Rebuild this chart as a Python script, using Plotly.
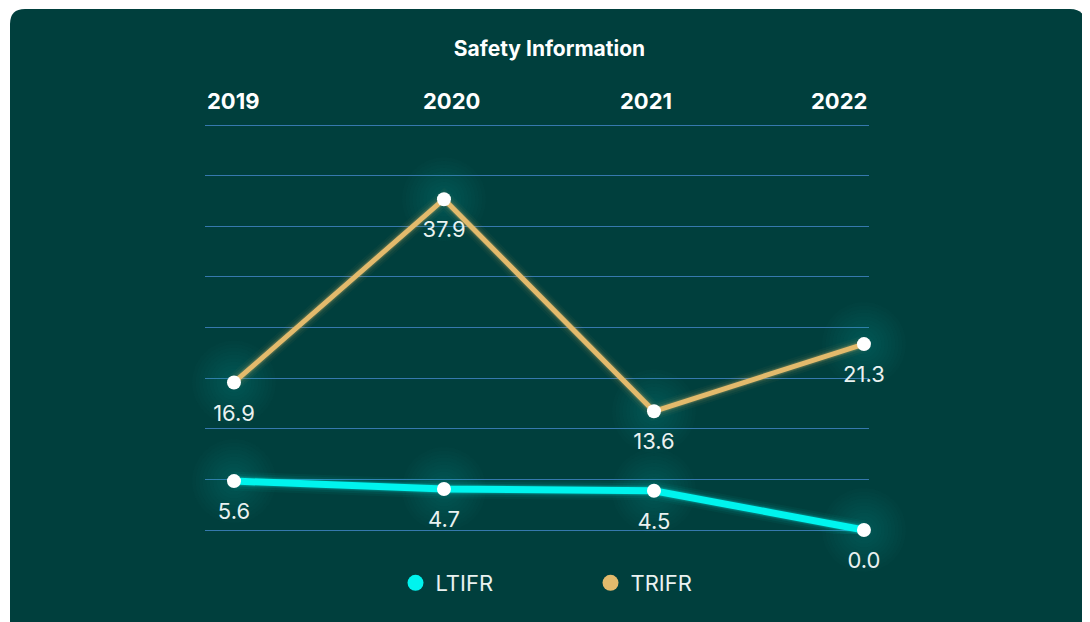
import plotly.graph_objects as go

# ---- data ----
years = ["2019", "2020", "2021", "2022"]
ltifr = [5.6, 4.7, 4.5, 0.0]
trifr = [16.9, 37.9, 13.6, 21.3]
series_names = ["LTIFR", "TRIFR"]
title_text = "Safety Information"

# ---- layout geometry (reference pixel coords; page has an 8px body margin) ----
OFF = 8
W, H = 1090 - OFF, 622 - OFF
PL, PR, PT, PB = 205, 869, 121, 534          # plot area in reference coords
PW, PH = PR - PL, PB - PT
L, R, T, B = PL - OFF, 1090 - PR, PT - OFF, 622 - PB

CARD = "#003F3D"
CYAN = "#00F4EE"
TAN = "#E3BA6C"
GRID = "#3679AE"
TXT = "#EAF2F1"
FONT = "Inter"

YMAX = 46.4
NGRID = 8
PXU = (530 - 125) / YMAX                      # px per unit
YLO, YHI = -(PB - 530) / PXU, YMAX + (125 - PT) / PXU

fig = go.Figure()

series = [(series_names[0], ltifr, CYAN, 7, "0,244,238"),
          (series_names[1], trifr, TAN, 5, "227,186,108")]

# soft halo around points
halo_sizes = list(range(84, 14, -7))
for name, vals, col, lw, rgb in series:
    for s in halo_sizes:
        fig.add_trace(go.Scatter(x=years, y=vals, mode="markers", showlegend=False,
                                 hoverinfo="skip", cliponaxis=False,
                                 marker=dict(size=s, color="rgba(60,170,160,0.022)", line=dict(width=0))))

# glow under lines
for name, vals, col, lw, rgb in series:
    for w, a in [(lw + 12, 0.04), (lw + 8, 0.06), (lw + 4, 0.10), (lw + 2, 0.16)]:
        fig.add_trace(go.Scatter(x=years, y=vals, mode="lines", showlegend=False,
                                 hoverinfo="skip", cliponaxis=False,
                                 line=dict(color=f"rgba({rgb},{a})", width=w)))

# main lines
for name, vals, col, lw, rgb in series:
    fig.add_trace(go.Scatter(x=years, y=vals, mode="lines", showlegend=False,
                             cliponaxis=False, line=dict(color=col, width=lw), name=name))

# white markers
for name, vals, col, lw, rgb in series:
    fig.add_trace(go.Scatter(x=years, y=vals, mode="markers", showlegend=False,
                             cliponaxis=False, name=name,
                             marker=dict(size=14, color="white", line=dict(width=0))))

# value labels
for name, vals, col, lw, rgb in series:
    fig.add_trace(go.Scatter(x=years, y=vals, mode="markers+text", showlegend=False,
                             hoverinfo="skip", cliponaxis=False,
                             text=[f"{v:.1f}" for v in vals], textposition="bottom center",
                             textfont=dict(family=FONT, size=22, color=TXT),
                             marker=dict(size=33, color="rgba(0,0,0,0)", line=dict(width=0))))

# legend entries
for name, vals, col, lw, rgb in series:
    fig.add_trace(go.Scatter(x=[None], y=[None], mode="markers", name=name,
                             marker=dict(size=18, color=col, line=dict(width=0))))

# card background (rounded rect) in paper coords
def px2x(px):
    return (px - PL) / PW

def py2y(py):
    return (PB - py) / PH

x0, x1, y0, y1 = 10, 1085, 9, 660
r = 15
path = (f"M {px2x(x0 + r)} {py2y(y0)} L {px2x(x1 - r)} {py2y(y0)} "
        f"Q {px2x(x1)} {py2y(y0)} {px2x(x1)} {py2y(y0 + r)} "
        f"L {px2x(x1)} {py2y(y1)} L {px2x(x0)} {py2y(y1)} "
        f"L {px2x(x0)} {py2y(y0 + r)} Q {px2x(x0)} {py2y(y0)} {px2x(x0 + r)} {py2y(y0)} Z")

# year labels at top
year_pos = [(0.0, "left"), (px2x(451), "center"), (px2x(646), "center"), (1.0, "right")]
annotations = []
for yr, (xp, anc) in zip(years, year_pos):
    annotations.append(dict(text=f"<b>{yr}</b>", x=xp, xanchor=anc, xref="paper",
                            y=py2y(101), yref="paper", yanchor="middle", showarrow=False,
                            font=dict(family=FONT, size=22, color="white")))

fig.update_layout(
    width=W, height=H,
    margin=dict(l=L, r=R, t=T, b=B),
    paper_bgcolor="white",
    plot_bgcolor="rgba(0,0,0,0)",
    shapes=[dict(type="path", path=path, xref="paper", yref="paper",
                 fillcolor=CARD, line=dict(width=0), layer="below")],
    annotations=annotations,
    title=dict(text=f"<b>{title_text}</b>", x=(549.5 - OFF) / W, xanchor="center", xref="container",
               y=1 - (49 - OFF) / H, yref="container", yanchor="middle",
               font=dict(family=FONT, size=21, color="white")),
    xaxis=dict(type="category", range=[-0.138, 3.024], showgrid=False, zeroline=False,
               showticklabels=False, showline=False, fixedrange=True),
    yaxis=dict(range=[YLO, YHI], tickvals=[YMAX * i / NGRID for i in range(NGRID + 1)],
               showgrid=True, gridcolor=GRID, gridwidth=1, zeroline=False,
               showticklabels=False, showline=False, fixedrange=True),
    legend=dict(orientation="h", x=px2x(590.5), xanchor="center", y=py2y(583), yanchor="middle",
                font=dict(family=FONT, size=22, color=TXT), bgcolor="rgba(0,0,0,0)",
                entrywidth=150, itemsizing="trace"),
    showlegend=True,
)

fig.write_html("out.html")
